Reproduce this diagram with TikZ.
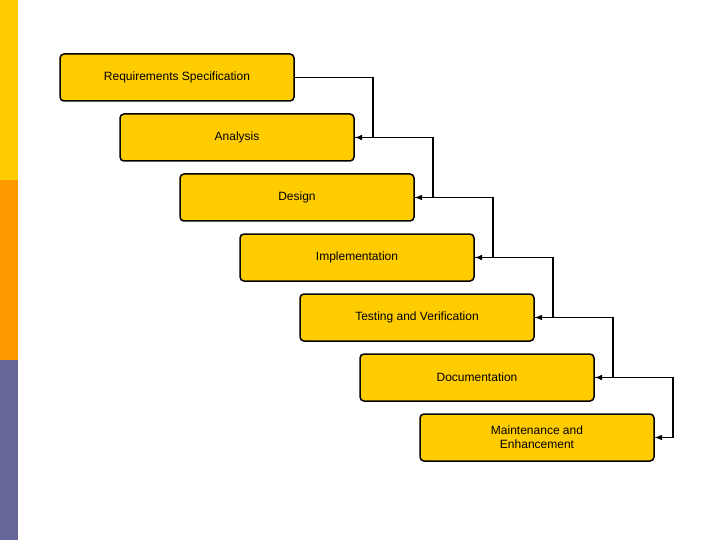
\documentclass[tikz,border=0pt]{standalone}
\usepackage{fontspec}
\setmainfont{Liberation Sans}
\begin{document}
\begin{tikzpicture}[x=1pt,y=-1pt,
  stage/.style={draw=black,line width=1.5pt,fill=boxy,rounded corners=4pt,minimum width=234pt,minimum height=47pt,inner sep=2pt,font=\fontsize{12pt}{14pt}\selectfont,align=center},
  link/.style={draw=black,line width=1.5pt,-latex}]
\definecolor{boxy}{HTML}{FFCC00}
\definecolor{baror}{HTML}{FF9900}
\definecolor{barpu}{HTML}{666699}
\useasboundingbox (0,0) rectangle (720,540);
\fill[boxy] (0,0) rectangle (18,180);
\fill[baror] (0,180) rectangle (18,360);
\fill[barpu] (0,360) rectangle (18,540);
\foreach \i/\t in {1/Requirements Specification,2/Analysis,3/Design,4/Implementation,5/Testing and Verification,6/Documentation,7/{Maintenance and\\Enhancement}}{
  \node[stage] (s\i) at ({177+60*(\i-1)},{77.5+60*(\i-1)}) {\t};
}
\foreach \i [evaluate=\i as \j using int(\i+1)] in {1,...,6}{
  \draw[link] (s\i.east) -- ++(78,0) |- (s\j.east);
}
\end{tikzpicture}
\end{document}
